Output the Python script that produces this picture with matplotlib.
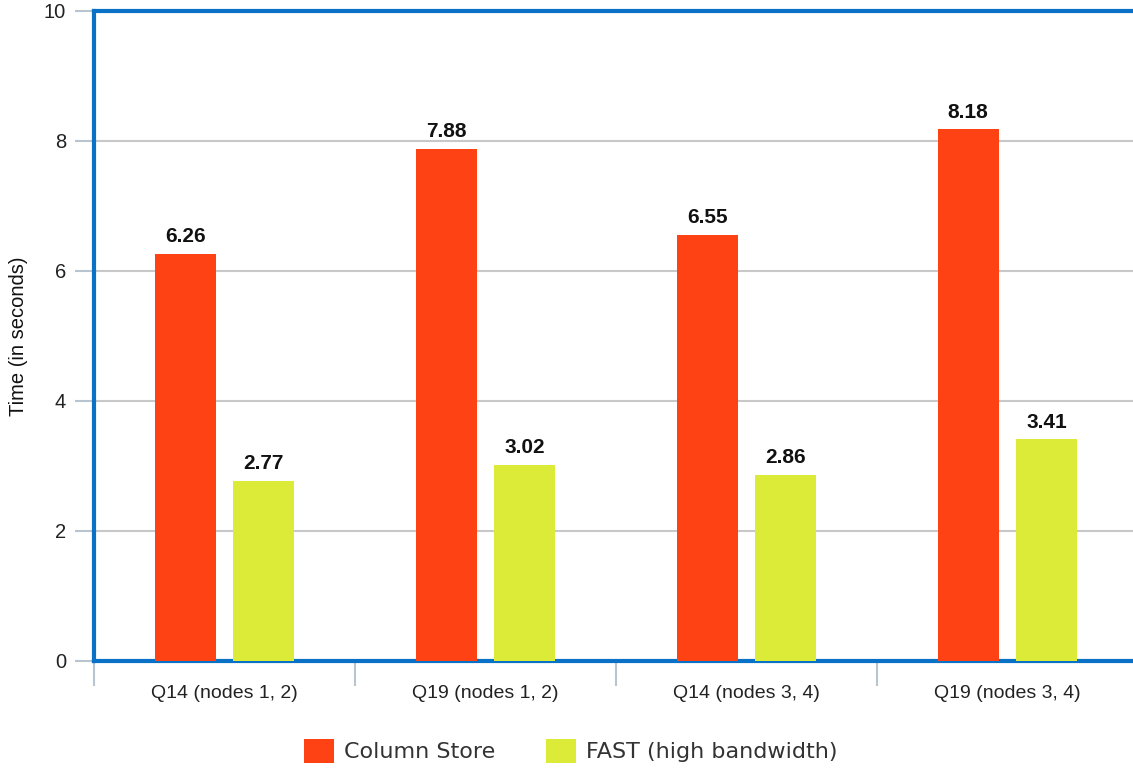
import matplotlib
matplotlib.use("Agg")
import matplotlib.pyplot as plt
import numpy as np
from matplotlib.patches import Patch

categories = ["Q14 (nodes 1, 2)", "Q19 (nodes 1, 2)", "Q14 (nodes 3, 4)", "Q19 (nodes 3, 4)"]
column_store = [6.26, 7.88, 6.55, 8.18]
fast_high_bw = [2.77, 3.02, 2.86, 3.41]
series_names = ["Column Store", "FAST (high bandwidth)"]
yticks = [0, 2, 4, 6, 8, 10]

RED = "#FF4214"
YELLOW = "#DCEA38"
BLUE = "#0A72C6"
GRID = "#C8C8C8"

plt.rcParams["font.family"] = ["Liberation Sans", "DejaVu Sans"]

W, H = 1133, 770
fig = plt.figure(figsize=(W / 100, H / 100), dpi=100)
ax = fig.add_axes([94 / W, 1 - 661 / H, (1138 - 94) / W, (661 - 11) / H])

x = np.arange(len(categories))
bw = 0.234
off = 0.151
ax.bar(x - off, column_store, bw, color=RED, zorder=3)
ax.bar(x + off, fast_high_bw, bw, color=YELLOW, zorder=3)

for xi, v in zip(x - off, column_store):
    ax.text(xi, v + 0.12, f"{v:.2f}", ha="center", va="bottom", fontsize=15,
            fontweight="bold", color="#111111")
for xi, v in zip(x + off, fast_high_bw):
    ax.text(xi, v + 0.12, f"{v:.2f}", ha="center", va="bottom", fontsize=15,
            fontweight="bold", color="#111111")

ax.set_xlim(-0.5, len(categories) - 0.5)
ax.set_ylim(0, 10)
ax.set_yticks(yticks)
ax.set_yticklabels([str(t) for t in yticks], fontsize=14.5, color="#222222")
ax.yaxis.grid(True, color=GRID, linewidth=1.5, zorder=0)
ax.tick_params(axis="y", length=14, width=1.5, color="#B8C4D0", pad=6)

# category labels centred, separator ticks at group boundaries
ax.set_xticks(x)
ax.set_xticklabels(categories, fontsize=14, color="#222222")
ax.tick_params(axis="x", length=0, pad=17)
ax.set_xticks(np.arange(-0.5, len(categories)), minor=True)
ax.tick_params(axis="x", which="minor", length=18, width=1.5, color="#B8C4D0")

for side in ["left", "top", "bottom"]:
    ax.spines[side].set_color(BLUE)
    ax.spines[side].set_linewidth(3)
ax.spines["right"].set_visible(False)

ax.set_ylabel("Time (in seconds)", fontsize=14.5, color="#111111")
ax.yaxis.set_label_coords(-66 / (1138 - 94), 0.5)

handles = [Patch(facecolor=RED, edgecolor="none"), Patch(facecolor=YELLOW, edgecolor="none")]
fig.legend(handles, series_names, loc="center", bbox_to_anchor=(571 / W, 1 - 751 / H),
           ncol=2, frameon=False, prop={"family": "DejaVu Sans", "size": 16},
           handlelength=1.35, handleheight=1.3, handletextpad=0.45, columnspacing=2.3,
           labelcolor="#333333")

fig.savefig("out.png", dpi=100)
